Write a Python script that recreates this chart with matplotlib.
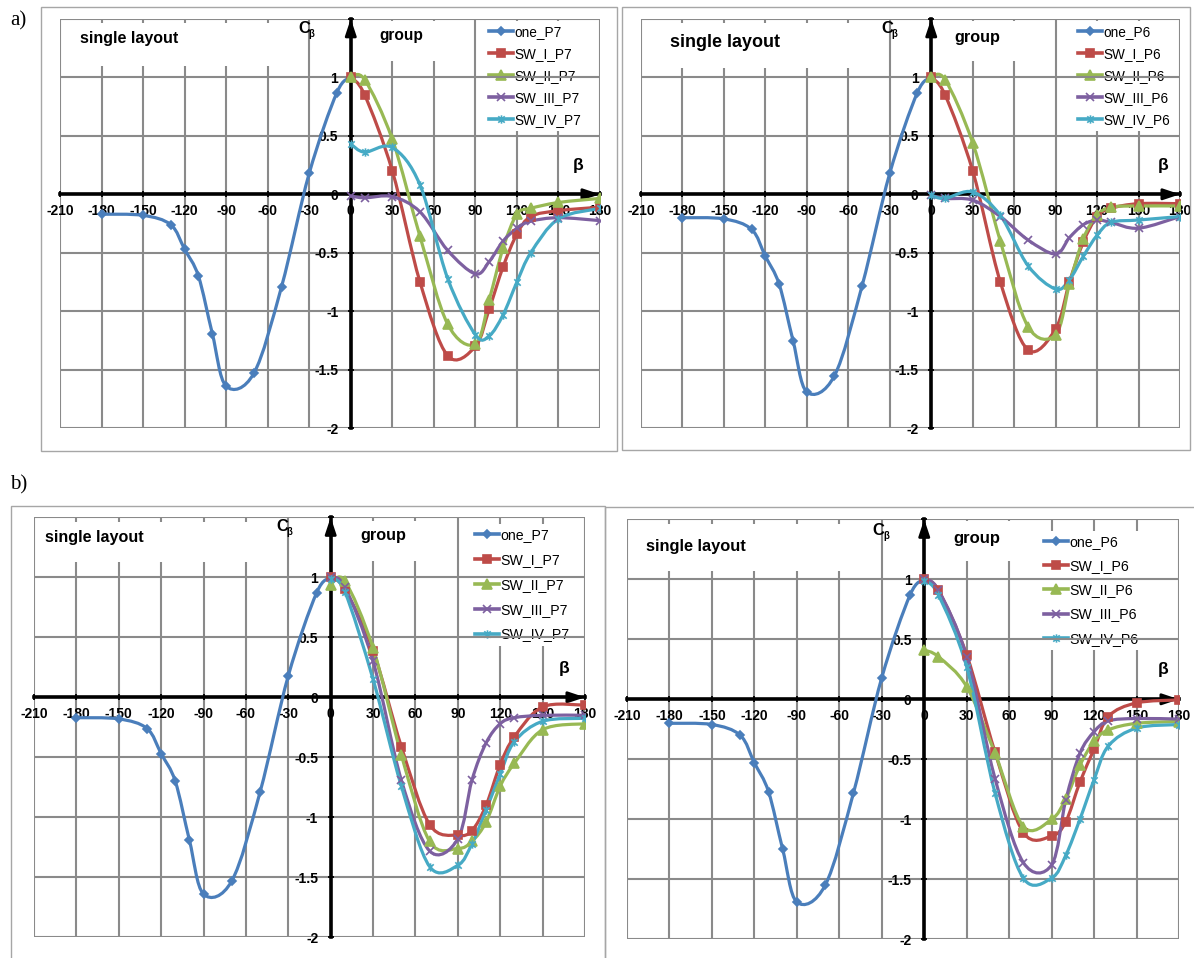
import numpy as np
import matplotlib
matplotlib.use('Agg')
import matplotlib.pyplot as plt
from matplotlib.path import Path
from matplotlib.patches import PathPatch, Rectangle
from matplotlib.lines import Line2D
from matplotlib.transforms import offset_copy

W, H = 1194, 958
plt.rcParams['font.family'] = ['Liberation Sans', 'DejaVu Sans']

# angles
beta_single = [-180, -150, -130, -120, -110, -100, -90, -70, -50, -30, -10, 0]
beta_group = [0, 10, 30, 50, 70, 90, 100, 110, 120, 130, 150, 180]

# single layout
one_P7 = [-0.17, -0.18, -0.26, -0.47, -0.70, -1.19, -1.64, -1.53, -0.79, 0.18, 0.87, 1.0]
one_P6 = [-0.20, -0.21, -0.30, -0.53, -0.77, -1.25, -1.69, -1.55, -0.78, 0.18, 0.87, 1.0]

# a) group
a_sw1_P7 = [1.0, 0.85, 0.20, -0.75, -1.38, -1.30, -0.98, -0.62, -0.34, -0.19, -0.14, -0.11]
a_sw2_P7 = [1.0, 0.98, 0.47, -0.36, -1.11, -1.28, -0.90, -0.46, -0.17, -0.12, -0.07, -0.035]
a_sw3_P7 = [-0.015, -0.03, -0.02, -0.15, -0.48, -0.68, -0.575, -0.40, -0.29, -0.23, -0.20, -0.225]
a_sw4_P7 = [0.43, 0.36, 0.40, 0.08, -0.72, -1.20, -1.21, -1.03, -0.75, -0.50, -0.21, -0.12]

a_sw1_P6 = [1.0, 0.85, 0.20, -0.75, -1.33, -1.15, -0.75, -0.41, -0.19, -0.12, -0.08, -0.08]
a_sw2_P6 = [1.0, 0.98, 0.44, -0.40, -1.13, -1.20, -0.77, -0.38, -0.18, -0.11, -0.10, -0.10]
a_sw3_P6 = [-0.01, -0.035, -0.05, -0.19, -0.39, -0.51, -0.37, -0.26, -0.22, -0.24, -0.29, -0.19]
a_sw4_P6 = [-0.01, -0.035, 0.02, -0.18, -0.61, -0.81, -0.73, -0.53, -0.35, -0.24, -0.22, -0.19]

# b) group
b_sw1_P7 = [1.0, 0.90, 0.39, -0.41, -1.06, -1.15, -1.11, -0.90, -0.56, -0.33, -0.08, -0.065]
b_sw2_P7 = [0.94, 0.97, 0.41, -0.48, -1.20, -1.26, -1.20, -1.04, -0.74, -0.55, -0.27, -0.22]
b_sw3_P7 = [1.0, 0.92, 0.30, -0.69, -1.28, -1.18, -0.69, -0.38, -0.22, -0.17, -0.15, -0.15]
b_sw4_P7 = [0.99, 0.88, 0.15, -0.74, -1.41, -1.40, -1.22, -0.94, -0.64, -0.37, -0.20, -0.175]

b_sw1_P6 = [1.0, 0.91, 0.37, -0.44, -1.11, -1.14, -1.02, -0.69, -0.415, -0.145, -0.03, -0.005]
b_sw2_P6 = [0.41, 0.355, 0.105, -0.45, -1.06, -1.0, -0.83, -0.55, -0.35, -0.255, -0.20, -0.185]
b_sw3_P6 = [1.0, 0.91, 0.355, -0.66, -1.36, -1.38, -0.84, -0.45, -0.27, -0.18, -0.16, -0.165]
b_sw4_P6 = [0.99, 0.87, 0.27, -0.78, -1.49, -1.49, -1.30, -1.0, -0.67, -0.39, -0.24, -0.21]

xticks = list(range(-210, 181, 30))
yticks = [-2, -1.5, -1, -0.5, 0, 0.5, 1, 1.5]

GRID = '#8a8a8a'
star = Path([(-1, -1), (1, 1), (-1, 1), (1, -1), (0, -1.3), (0, 1.3)],
            [Path.MOVETO, Path.LINETO] * 3)
# colour, marker, size, filled
styles = [('#4A7EBB', 'D', 4.3, True),
          ('#BE4B48', 's', 6, True),
          ('#98B954', '^', 6.5, True),
          ('#7D60A0', 'x', 6, False),
          ('#46AAC5', star, 6, False)]


def smooth_path(x, y):
    # excel-like smoothed line as cubic bezier segments
    p = np.column_stack([x, y]).astype(float)
    ext = np.vstack([p[0], p, p[-1]])
    verts = [p[0]]
    codes = [Path.MOVETO]
    for i in range(len(p) - 1):
        c1 = ext[i + 1] + (ext[i + 2] - ext[i]) / 6
        c2 = ext[i + 2] - (ext[i + 3] - ext[i + 1]) / 6
        verts += [c1, c2, ext[i + 2]]
        codes += [Path.CURVE4] * 3
    return Path(verts, codes)


def px_box(l, t, r, b):
    return [l / W, 1 - b / H, (r - l) / W, (b - t) / H]


fig = plt.figure(figsize=(W / 100, H / 100), dpi=100)

panels = [
    dict(plot=(60, 18.8, 600, 428.3), frame=(41, 7, 617, 451), tag='P7',
         one=one_P7, group=[a_sw1_P7, a_sw2_P7, a_sw3_P7, a_sw4_P7],
         single=(-195.6, 1.33, 11.5), sbox=(-208, 1.10, -45, 1.46),
         grp=(21, 1.355, 11.2), gbox=(3, 1.14, 84, 1.48),
         c=(-33.8, 1.42), b=(164, 0.25), leg=(489, 33, 23.5, 9.8)),
    dict(plot=(641, 18.8, 1180, 428.3), frame=(622, 7, 1190, 450), tag='P6',
         one=one_P6, group=[a_sw1_P6, a_sw2_P6, a_sw3_P6, a_sw4_P6],
         single=(-189, 1.30, 13), sbox=(-208, 1.08, -44, 1.46),
         grp=(16.5, 1.34, 11.7), gbox=(3, 1.14, 86, 1.48),
         c=(-32, 1.42), b=(167.7, 0.25), leg=(1077.6, 33, 23.5, 9.8)),
    dict(plot=(34, 517.3, 585, 937.3), frame=(11, 506, 605, 970), tag='P7',
         one=one_P7, group=[b_sw1_P7, b_sw2_P7, b_sw3_P7, b_sw4_P7],
         single=(-202.4, 1.33, 11.6), sbox=(-208, 1.13, -48, 1.46),
         grp=(20.7, 1.35, 11.7), gbox=(3, 1.14, 82, 1.47),
         c=(-34.5, 1.42), b=(165.4, 0.24), leg=(474.6, 536, 27.2, 10.2)),
    dict(plot=(627, 519.3, 1179, 939.3), frame=(605, 507, 1200, 970), tag='P6',
         one=one_P6, group=[b_sw1_P6, b_sw2_P6, b_sw3_P6, b_sw4_P6],
         single=(-196.6, 1.275, 11.8), sbox=(-208, 1.07, -43, 1.46),
         grp=(20.4, 1.34, 12), gbox=(3, 1.15, 80, 1.49),
         c=(-32.6, 1.41), b=(168.5, 0.25), leg=(1044, 543, 26.5, 10.2)),
]

for pn in panels:
    fl, ft, fr, fb = pn['frame']
    fig.add_artist(Rectangle((fl / W, 1 - fb / H), (fr - fl) / W, (fb - ft) / H,
                             transform=fig.transFigure, fill=False,
                             edgecolor='#a6a6a6', lw=1.0))
    ax = fig.add_axes(px_box(*pn['plot']))
    ax.set_xlim(-210, 180)
    ax.set_ylim(-2, 1.5)

    # grid: vertical lines under the text boxes, horizontal above
    for v in xticks:
        ax.axvline(v, color=GRID, lw=1.5, zorder=0.8)
    for v in yticks:
        ax.axhline(v, color=GRID, lw=1.5, zorder=1.5)

    ax.spines['top'].set_visible(False)
    ax.spines['right'].set_visible(False)
    for s in ('left', 'bottom'):
        ax.spines[s].set_position(('data', 0))
        ax.spines[s].set_color('black')
        ax.spines[s].set_linewidth(2.6)
        ax.spines[s].set_zorder(2.6)
    ax.set_xticks(xticks)
    ax.set_xticklabels([str(v) for v in xticks], fontweight='bold')
    ax.set_yticks(yticks)
    ax.set_yticklabels([f'{v:g}' for v in yticks[:-1]] + [''], fontweight='bold')
    ax.tick_params(axis='both', direction='inout', length=4, width=1.3,
                   color='black', labelsize=10)
    ax.tick_params(axis='x', pad=5)
    ax.tick_params(axis='y', pad=7)

    ax.annotate('', xy=(180, 0), xytext=(172, 0), annotation_clip=False,
                arrowprops=dict(arrowstyle='-|>,head_length=0.9,head_width=0.3',
                                color='black', lw=2, shrinkA=0, shrinkB=0,
                                mutation_scale=11), zorder=2.7)
    ax.annotate('', xy=(0, 1.5), xytext=(0, 1.4), annotation_clip=False,
                arrowprops=dict(arrowstyle='-|>,head_length=0.9,head_width=0.3',
                                color='black', lw=2, shrinkA=0, shrinkB=0,
                                mutation_scale=11), zorder=2.7)

    # white text boxes
    for bx in (pn['sbox'], pn['gbox']):
        ax.add_patch(Rectangle((bx[0], bx[1]), bx[2] - bx[0], bx[3] - bx[1],
                               facecolor='white', edgecolor='none', zorder=1.2))
    sx, sy, sfs = pn['single']
    ax.text(sx, sy, 'single layout', fontsize=sfs, fontweight='bold',
            ha='left', va='center', zorder=4)
    gx, gy, gfs = pn['grp']
    ax.text(gx, gy, 'group', fontsize=gfs, fontweight='bold',
            ha='left', va='center', zorder=4)
    cx, cy = pn['c']
    ax.text(cx, cy, 'C', fontsize=12, fontweight='bold', ha='center', va='center', zorder=4)
    ax.text(cx, cy, 'β', fontsize=7, fontweight='bold', ha='left', va='center', zorder=4,
            transform=offset_copy(ax.transData, fig, x=3.5, y=-4, units='points'))
    bx_, by_ = pn['b']
    ax.text(bx_, by_, 'β', fontsize=12.5, fontweight='bold', ha='center', va='center', zorder=4)

    # series
    series = [(beta_single, pn['one'])] + [(beta_group, g) for g in pn['group']]
    names = ['one_' + pn['tag'], 'SW_I_' + pn['tag'], 'SW_II_' + pn['tag'],
             'SW_III_' + pn['tag'], 'SW_IV_' + pn['tag']]
    handles = []
    for (xs, ys), (col, mk, ms, filled) in zip(series, styles):
        ax.add_patch(PathPatch(smooth_path(xs, ys), fill=False, edgecolor=col,
                               lw=2.3, capstyle='round', joinstyle='round', zorder=3))
        ax.plot(xs, ys, linestyle='none', marker=mk, ms=ms, mfc=col if filled else 'none',
                mec=col, mew=1.2, zorder=3.5)
        handles.append(Line2D([], [], color=col, lw=2.6, marker=mk, ms=ms,
                              mfc=col if filled else 'none', mec=col, mew=1.2))

    hx, hy, sp, lfs = pn['leg']
    fs_px = lfs * 100 / 72
    bp = 0.3
    text_h = 1.15 * fs_px
    ls = (sp - text_h) / fs_px
    anchor = ((hx - bp * fs_px) / W, 1 - (hy - text_h / 2 - bp * fs_px) / H)
    leg = ax.legend(handles, names, loc='upper left', bbox_to_anchor=anchor,
                    bbox_transform=fig.transFigure, borderaxespad=0, borderpad=bp,
                    fontsize=lfs, handlelength=24 / fs_px, handletextpad=0.1,
                    labelspacing=ls, frameon=True, fancybox=False,
                    facecolor='white', edgecolor='none', framealpha=1)
    leg.set_zorder(1.2)

fig.text(10 / W, 1 - 21 / H, 'a)', fontfamily='Liberation Serif', fontsize=15,
         ha='left', va='center')
fig.text(10 / W, 1 - 485 / H, 'b)', fontfamily='Liberation Serif', fontsize=15,
         ha='left', va='center')

fig.savefig('out.png', dpi=100, facecolor='white')
